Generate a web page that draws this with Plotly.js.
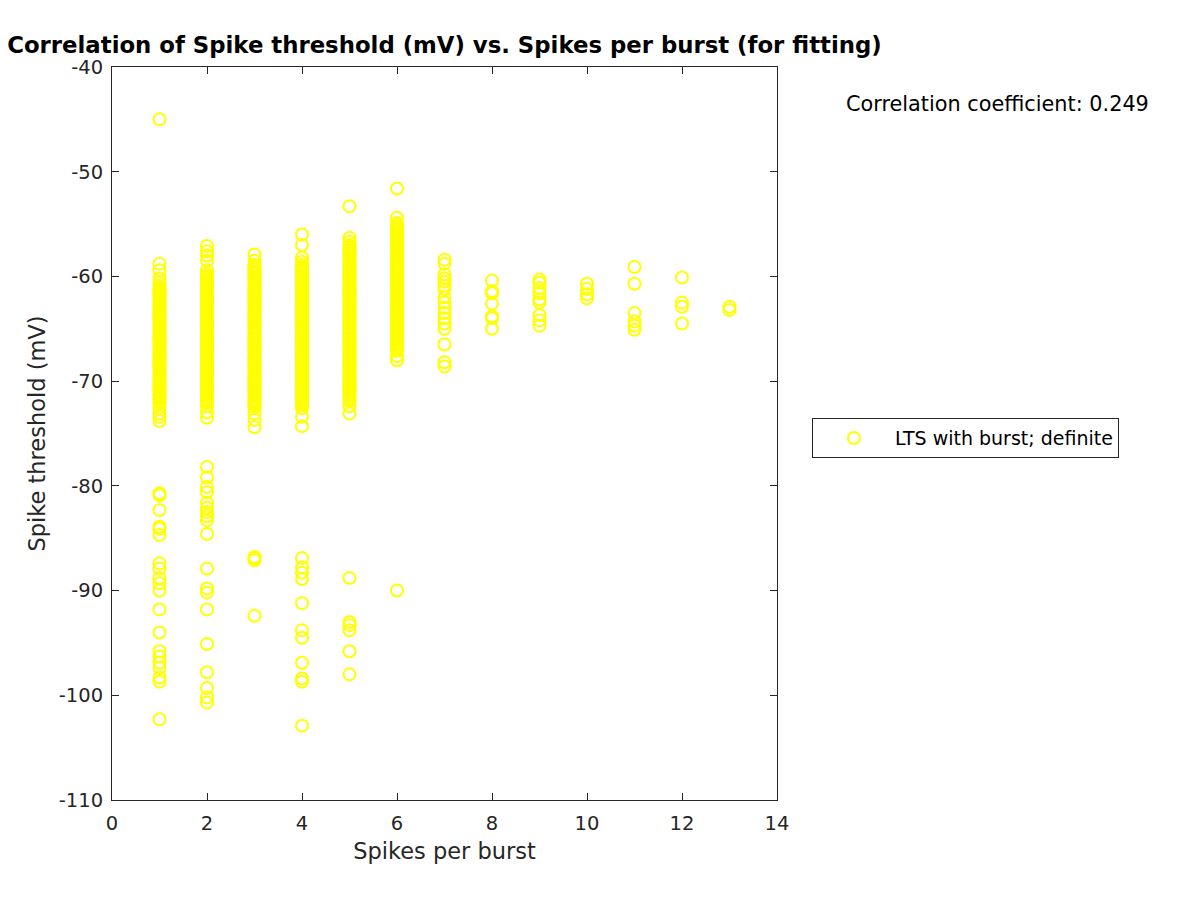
<!DOCTYPE html>
<html>
<head>
<meta charset="utf-8">
<script src="https://cdn.plot.ly/plotly-3.0.1.min.js"></script>
<style>body{margin:0;padding:0;background:#fff;}#chart{width:1200px;height:900px;}</style>
</head>
<body>
<div id="chart"></div>
<script>
// Spike threshold (mV) per "spikes per burst" category
const spikes1 = [-45.0, -58.8, -59.4, -60.2, -60.6,
  -60.9,-61.1,-61.2,-61.4,-61.5,-61.7,-61.8,-62.0,-62.1,-62.3,-62.5,-62.6,-62.8,-62.9,-63.1,-63.2,-63.4,-63.6,-63.7,-63.9,-64.0,-64.2,-64.3,-64.5,-64.7,-64.8,-65.0,-65.1,-65.3,-65.4,-65.6,-65.8,-65.9,-66.1,-66.2,-66.4,-66.5,-66.7,-66.9,-67.0,-67.2,-67.3,-67.5,-67.6,-67.8,-68.0,-68.1,-68.3,-68.4,-68.6,-68.7,-68.9,-69.1,-69.2,-69.4,-69.5,-69.7,-69.8,-70.0,-70.2,-70.3,-70.5,-70.6,-70.8,-70.9,-71.1,-71.3,-71.4,-71.6,-71.7,-71.9,-72.1,
  -72.6, -73.1, -73.4, -73.8,
  -80.7, -80.9, -82.3, -83.9, -84.1, -84.7, -87.4, -87.9, -88.8, -89.3, -90.0, -91.8, -94.0, -95.8, -96.3, -96.9, -97.4, -98.3, -98.7, -102.3];
const spikes2 = [-57.1, -57.6, -58.0, -58.5, -59.4,
  -59.8,-60.0,-60.1,-60.3,-60.4,-60.6,-60.8,-60.9,-61.1,-61.2,-61.4,-61.5,-61.7,-61.9,-62.0,-62.2,-62.3,-62.5,-62.6,-62.8,-63.0,-63.1,-63.3,-63.4,-63.6,-63.7,-63.9,-64.1,-64.2,-64.4,-64.5,-64.7,-64.8,-65.0,-65.2,-65.3,-65.5,-65.6,-65.8,-65.9,-66.1,-66.3,-66.4,-66.6,-66.7,-66.9,-67.0,-67.2,-67.4,-67.5,-67.7,-67.8,-68.0,-68.1,-68.3,-68.5,-68.6,-68.8,-68.9,-69.1,-69.2,-69.4,-69.6,-69.7,-69.9,-70.0,-70.2,-70.3,-70.5,-70.7,-70.8,-71.0,-71.1,-71.3,-71.4,-71.6,-71.8,-71.9,-72.1,
  -72.4, -73.0, -73.5,
  -78.2, -79.2, -80.1, -80.6, -81.6, -82.1, -82.5, -82.9, -83.3, -84.6, -87.9, -89.8, -90.2, -91.8, -95.1, -97.8, -99.3, -100.2, -100.7];
const spikes3 = [-57.9, -58.5,
  -58.9,-59.0,-59.2,-59.3,-59.5,-59.7,-59.8,-60.0,-60.1,-60.3,-60.4,-60.6,-60.8,-60.9,-61.1,-61.2,-61.4,-61.5,-61.7,-61.9,-62.0,-62.2,-62.3,-62.5,-62.6,-62.8,-63.0,-63.1,-63.3,-63.4,-63.6,-63.7,-63.9,-64.1,-64.2,-64.4,-64.5,-64.7,-64.8,-65.0,-65.2,-65.3,-65.5,-65.6,-65.8,-65.9,-66.1,-66.3,-66.4,-66.6,-66.7,-66.9,-67.0,-67.2,-67.4,-67.5,-67.7,-67.8,-68.0,-68.1,-68.3,-68.5,-68.6,-68.8,-68.9,-69.1,-69.2,-69.4,-69.6,-69.7,-69.9,-70.0,-70.2,-70.3,-70.5,-70.7,-70.8,-71.0,-71.1,-71.3,-71.4,-71.6,-71.8,-71.9,-72.1,-72.3,-72.5,
  -73.1, -73.7, -74.4,
  -86.8, -86.9, -87.1, -92.4];
const spikes4 = [-56.0, -57.0, -58.2, -58.6,
  -58.9,-59.1,-59.2,-59.4,-59.5,-59.7,-59.9,-60.0,-60.2,-60.3,-60.5,-60.6,-60.8,-61.0,-61.1,-61.3,-61.4,-61.6,-61.7,-61.9,-62.1,-62.2,-62.4,-62.5,-62.7,-62.8,-63.0,-63.2,-63.3,-63.5,-63.6,-63.8,-63.9,-64.1,-64.3,-64.4,-64.6,-64.7,-64.9,-65.0,-65.2,-65.4,-65.5,-65.7,-65.8,-66.0,-66.1,-66.3,-66.5,-66.6,-66.8,-66.9,-67.1,-67.2,-67.4,-67.6,-67.7,-67.9,-68.0,-68.2,-68.3,-68.5,-68.7,-68.8,-69.0,-69.1,-69.3,-69.4,-69.6,-69.8,-69.9,-70.1,-70.2,-70.4,-70.5,-70.7,-70.9,-71.0,-71.2,-71.3,-71.5,-71.6,-71.8,-72.0,-72.1,-72.3,-72.6,
  -73.4, -74.3,
  -86.9, -87.8, -88.3, -88.9, -91.2, -93.8, -94.5, -96.9, -98.4, -98.7, -102.9];
const spikes5 = [-53.3, -56.3, -56.7,
  -57.0,-57.2,-57.3,-57.5,-57.6,-57.8,-57.9,-58.1,-58.3,-58.4,-58.6,-58.7,-58.9,-59.0,-59.2,-59.4,-59.5,-59.7,-59.8,-60.0,-60.1,-60.3,-60.5,-60.6,-60.8,-60.9,-61.1,-61.2,-61.4,-61.6,-61.7,-61.9,-62.0,-62.2,-62.3,-62.5,-62.7,-62.8,-63.0,-63.1,-63.3,-63.4,-63.6,-63.8,-63.9,-64.1,-64.2,-64.4,-64.5,-64.7,-64.9,-65.0,-65.2,-65.3,-65.5,-65.6,-65.8,-66.0,-66.1,-66.3,-66.4,-66.6,-66.7,-66.9,-67.1,-67.2,-67.4,-67.5,-67.7,-67.8,-68.0,-68.2,-68.3,-68.5,-68.6,-68.8,-68.9,-69.1,-69.3,-69.4,-69.6,-69.7,-69.9,-70.0,-70.2,-70.4,-70.5,-70.7,-70.8,-71.0,-71.1,-71.3,-71.5,-71.7,-71.9,
  -72.4, -73.1,
  -88.8, -93.0, -93.3, -93.8, -95.8, -98.0];
const spikes6 = [-51.6, -54.4,
  -54.9,-55.0,-55.2,-55.3,-55.5,-55.7,-55.8,-56.0,-56.1,-56.3,-56.4,-56.6,-56.8,-56.9,-57.1,-57.2,-57.4,-57.5,-57.7,-57.9,-58.0,-58.2,-58.3,-58.5,-58.6,-58.8,-59.0,-59.1,-59.3,-59.4,-59.6,-59.7,-59.9,-60.1,-60.2,-60.4,-60.5,-60.7,-60.8,-61.0,-61.2,-61.3,-61.5,-61.6,-61.8,-61.9,-62.1,-62.3,-62.4,-62.6,-62.7,-62.9,-63.0,-63.2,-63.4,-63.5,-63.7,-63.8,-64.0,-64.1,-64.3,-64.5,-64.6,-64.8,-64.9,-65.1,-65.2,-65.4,-65.6,-65.7,-65.9,-66.0,-66.2,-66.3,-66.5,-66.7,-66.9,-67.1,
  -67.6, -68.0,
  -90.0];
const spikes7 = [-58.4, -58.8, -59.8, -60.2, -60.5, -60.9, -61.2, -62.0, -62.5, -63.0, -63.5, -64.0, -64.5, -65.0, -66.5, -68.2, -68.6];
const spikes8 = [-60.4, -61.4, -61.6, -62.6, -63.8, -64.0, -65.0];
const spikes9 = [-60.3, -60.6, -61.1, -61.6, -62.2, -62.5, -63.7, -64.2, -64.7];
const spikes10 = [-60.7, -61.2, -61.7, -62.1];
const spikes11 = [-59.1, -60.7, -63.5, -64.3, -64.7, -65.1];
const spikes12 = [-60.1, -62.5, -62.9, -64.5];
const spikes13 = [-62.9, -63.2];

const burstCategories = [1, 2, 3, 4, 5, 6, 7, 8, 9, 10, 11, 12, 13];
const thresholdsByCategory = [spikes1, spikes2, spikes3, spikes4, spikes5, spikes6, spikes7, spikes8, spikes9, spikes10, spikes11, spikes12, spikes13];

const xTickVals = [0, 2, 4, 6, 8, 10, 12, 14];
const yTickVals = [-110, -100, -90, -80, -70, -60, -50, -40];
const seriesName = 'LTS with burst; definite';
const correlationText = 'Correlation coefficient: 0.249';

const xs = [], ys = [];
burstCategories.forEach((c, i) => {
  thresholdsByCategory[i].forEach(v => { xs.push(c); ys.push(v); });
});

const FONT = 'DejaVu Sans, sans-serif';
const trace = {
  x: xs, y: ys, type: 'scatter', mode: 'markers', name: seriesName,
  marker: {symbol: 'circle-open', size: 12, color: '#FFFF00', line: {width: 2, color: '#FFFF00'}},
  showlegend: true
};

const axisCommon = {
  showgrid: false, zeroline: false, showline: true, linecolor: '#262626', linewidth: 1,
  mirror: 'ticks', ticks: 'inside', ticklen: 7, tickcolor: '#262626',
  tickfont: {family: FONT, size: 19.5, color: '#262626'}
};

const layout = {
  width: 1200, height: 900,
  paper_bgcolor: '#fff', plot_bgcolor: '#fff',
  margin: {l: 112, r: 423, t: 67, b: 100},
  title: {text: '<b>Correlation of Spike threshold (mV) vs. Spikes per burst (for fitting)</b>',
    font: {family: FONT, size: 22.8, color: '#000'}, x: 0.3704, xanchor: 'center', y: 0.95, yanchor: 'middle'},
  xaxis: Object.assign({}, axisCommon, {range: [0, 14], tickvals: xTickVals, ticktext: xTickVals.map(String),
    ticklabelstandoff: 6,
    title: {text: 'Spikes per burst', font: {family: FONT, size: 22.5, color: '#262626'}, standoff: 8}}),
  yaxis: Object.assign({}, axisCommon, {range: [-110, -40], tickvals: yTickVals, ticktext: yTickVals.map(String),
    ticklabelstandoff: 4,
    title: {text: 'Spike threshold (mV)', font: {family: FONT, size: 22.5, color: '#262626'}, standoff: 6}}),
  legend: {x: 1.0526, xanchor: 'left', y: 0.521, yanchor: 'top', bordercolor: '#262626', borderwidth: 1,
    bgcolor: '#fff', font: {family: FONT, size: 19, color: '#000'}, itemwidth: 72},
  annotations: [{text: correlationText, xref: 'paper', yref: 'paper', x: 1.1, xanchor: 'left', y: 0.949, yanchor: 'middle',
    showarrow: false, font: {family: FONT, size: 20.8, color: '#000'}}]
};

Plotly.newPlot('chart', [trace], layout, {displayModeBar: false, staticPlot: true});
</script>
</body>
</html>
